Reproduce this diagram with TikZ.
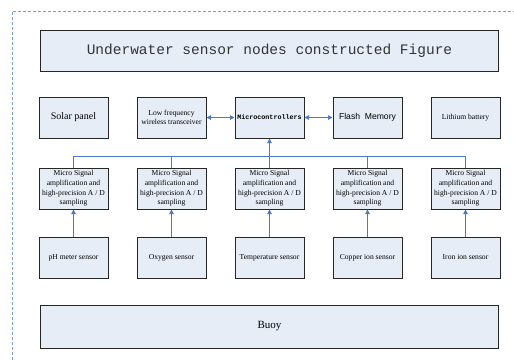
\documentclass[tikz,border=0pt]{standalone}
\usepackage{fontspec}
\setmainfont{Liberation Serif}
\newfontfamily\monofont{Liberation Mono}
\newfontfamily\arialfont{Liberation Sans}
\usepackage{xcolor}
\usepackage{tikz}
\usetikzlibrary{arrows.meta,positioning}

\definecolor{boxfill}{RGB}{231,237,247}
\definecolor{linkblue}{RGB}{74,122,200}
\definecolor{framecol}{RGB}{120,158,214}

\begin{document}
\begin{tikzpicture}[
    x=1pt, y=1pt,
    node distance=27pt and 28pt,
    b1/.style={rectangle, draw=black!85, fill=boxfill, line width=1pt, align=center, minimum height=41pt, minimum width=69pt, inner sep=1pt, font=\rmfamily\fontsize{7.6}{9.7}\selectfont},
    b2/.style={b1, minimum width=458pt},
    arr/.style={-{Triangle[length=4.5pt,width=4.5pt]}, line width=1pt, draw=linkblue},
    darr/.style={{Triangle[length=4.5pt,width=4.5pt]}-{Triangle[length=4.5pt,width=4.5pt]}, line width=1pt, draw=linkblue},
    bus/.style={line width=1pt, draw=linkblue}
]
    \useasboundingbox (0,0) rectangle (514,-360);
    \draw [framecol, dash pattern=on 3pt off 2pt, line width=0.9pt] (12,-360) -- (12,-11) -- (514,-11);

    % top row
    \node [b1, font=\rmfamily\fontsize{10}{12}\selectfont] at (73.5,-117.5) (n1) {Solar panel};
    \node [b1, right=of n1] (n2) {Low frequency\\wireless transceiver};
    \node [b1, right=of n2, font=\monofont\bfseries\fontsize{6.7}{8}\selectfont] (n3) {Microcontrollers};
    \node [b1, right=of n3, font=\arialfont\fontsize{8.6}{10}\selectfont] (n4) {Flash\ \ Memory};
    \node [b1, right=of n4] (n5) {Lithium battery};
    \node [b2, above=25pt of n3, font=\monofont\fontsize{14.5}{16}\selectfont, text=black!80] (hd) {Underwater sensor nodes constructed Figure};

    % amplifier row
    \node [b1, below=29pt of n1] (a1) {Micro Signal\\amplification and\\high-precision A / D\\sampling};
    \node [b1, right=of a1] (a2) {Micro Signal\\amplification and\\high-precision A / D\\sampling};
    \node [b1, right=of a2] (a3) {Micro Signal\\amplification and\\high-precision A / D\\sampling};
    \node [b1, right=of a3] (a4) {Micro Signal\\amplification and\\high-precision A / D\\sampling};
    \node [b1, right=of a4] (a5) {Micro Signal\\amplification and\\high-precision A / D\\sampling};

    % sensor row
    \node [b1, below=of a1] (s1) {pH meter sensor};
    \node [b1, below=of a2] (s2) {Oxygen sensor};
    \node [b1, below=of a3] (s3) {Temperature sensor};
    \node [b1, below=of a4] (s4) {Copper ion sensor};
    \node [b1, below=of a5] (s5) {Iron ion sensor};

    \node [b2, below=26pt of s3, minimum height=43pt, font=\rmfamily\fontsize{11}{13}\selectfont] (by) {Buoy};

    \draw [darr] (n2) -- (n3);
    \draw [darr] (n3) -- (n4);

    \draw [bus] (a1.north) -- ++(0,11) -| (a5.north);
    \draw [bus] (a2.north) -- ++(0,11);
    \draw [bus] (a4.north) -- ++(0,11);
    \draw [arr] (a3.north) -- (n3.south);

    \draw [arr] (s1) -- (a1);
    \draw [arr] (s2) -- (a2);
    \draw [arr] (s3) -- (a3);
    \draw [arr] (s4) -- (a4);
    \draw [arr] (s5) -- (a5);
\end{tikzpicture}
\end{document}
